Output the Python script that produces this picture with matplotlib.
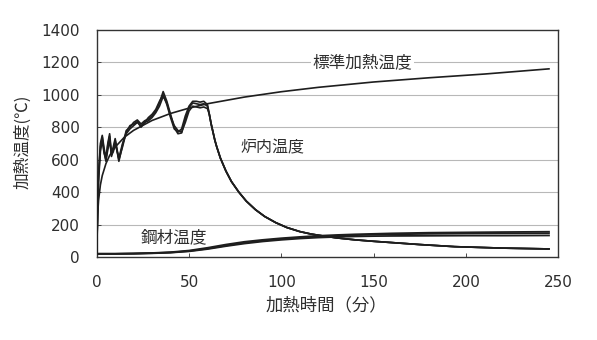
import matplotlib
matplotlib.use("Agg")
import matplotlib.pyplot as plt

plt.rcParams['font.family'] = ['Noto Sans CJK JP', 'DejaVu Sans']

# Standard heating curve
std_t = [0, 0.5, 1, 2, 3, 5, 7, 10, 15, 20, 30, 40, 50, 60, 80, 100, 120, 150, 180, 210, 245]
std_T = [20, 260, 349, 445, 502, 576, 626, 678, 739, 781, 842, 885, 918, 945, 986, 1019, 1046, 1079, 1105, 1128, 1160]

# Furnace temperature, heating phase (three tests)
fur_t = [0, 0.5, 1, 2, 3, 4, 5, 6, 7, 8, 9, 10, 12, 14, 16, 18, 20, 22, 24, 26, 28, 30, 32, 34, 36, 38, 40, 42, 44, 46, 48, 50, 52, 54, 56, 58, 60]
fur_1 = [20, 300, 500, 680, 740, 650, 590, 690, 745, 620, 660, 720, 590, 690, 780, 800, 830, 845, 820, 840, 850, 870, 900, 950, 1020, 960, 880, 800, 760, 765, 850, 920, 950, 945, 940, 945, 930]
fur_2 = [20, 280, 470, 650, 720, 640, 600, 660, 720, 630, 650, 700, 610, 700, 760, 790, 810, 830, 810, 830, 860, 880, 910, 960, 1000, 940, 860, 790, 770, 790, 870, 930, 960, 960, 955, 960, 940]
fur_3 = [20, 320, 520, 700, 750, 670, 610, 700, 760, 640, 680, 730, 600, 680, 770, 810, 820, 835, 800, 830, 840, 860, 890, 930, 990, 950, 870, 810, 780, 770, 830, 900, 930, 925, 920, 925, 915]
# Furnace temperature, cooling phase
cool_t = [61, 62, 63, 64, 65, 67, 70, 73, 77, 81, 86, 91, 97, 103, 110, 116, 122, 130, 140, 150, 160, 175, 194, 220, 245]
cool_T = [880, 820, 770, 720, 680, 610, 530, 465, 400, 345, 292, 250, 212, 182, 157, 142, 131, 118, 106, 97, 89, 77, 64, 55, 50]

# Steel temperature (three measuring points)
st_t = [0, 10, 20, 30, 40, 50, 60, 70, 80, 90, 100, 110, 120, 130, 140, 150, 160, 180, 200, 220, 245]
st_1 = [20, 20, 22, 25, 30, 40, 57, 77, 94, 106, 116, 124, 131, 136, 140, 143, 146, 150, 152, 154, 156]
st_2 = [20, 20, 21, 24, 28, 37, 52, 71, 88, 101, 111, 119, 126, 131, 135, 138, 140, 143, 145, 146, 147]
st_3 = [20, 20, 21, 23, 27, 35, 49, 67, 83, 96, 106, 114, 120, 124, 127, 129, 130, 131, 132, 132, 133]

yticks = [0, 200, 400, 600, 800, 1000, 1200, 1400]
xticks = [0, 50, 100, 150, 200, 250]

fig = plt.figure(figsize=(5.97, 3.40), dpi=100)
ax = fig.add_axes([0.162, 0.244, 0.773, 0.668])

lc = '#1e1e1e'
tc = '#2e2e2e'
for y in yticks[1:-1]:
    ax.axhline(y, color='#b8b8b8', lw=0.8, zorder=0)

ax.plot(std_t, std_T, color=lc, lw=1.2, zorder=3)
for f in (fur_1, fur_2, fur_3):
    ax.plot(fur_t + cool_t, f + cool_T, color=lc, lw=1.2, zorder=3)
for s in (st_1, st_2, st_3):
    ax.plot(st_t, s, color=lc, lw=1.3, zorder=3)

ax.set_xlim(0, 250)
ax.set_ylim(0, 1400)
ax.set_xticks(xticks)
ax.set_yticks(yticks)
ax.tick_params(direction='in', length=3, width=0.6, colors=tc, labelsize=11)
ax.tick_params(axis='y', pad=12)
ax.tick_params(axis='x', pad=13)
for lab in ax.get_xticklabels() + ax.get_yticklabels():
    lab.set_family(['DejaVu Sans'])
for sp in ax.spines.values():
    sp.set_color('#333333')
    sp.set_linewidth(1.0)

ax.set_xlabel('加熱時間（分）', fontsize=12.5, color=tc)
ax.set_ylabel('加熱温度(℃)', fontsize=12, color=tc)
ax.xaxis.set_label_coords(0.497, -0.172)
ax.yaxis.set_label_coords(-0.141, 0.507)

ax.text(144, 1200, '標準加熱温度', fontsize=12, color=tc, ha='center', va='center',
        bbox=dict(facecolor='white', edgecolor='none', pad=1), zorder=2)
ax.text(95, 675, '炉内温度', fontsize=11.5, color=tc, ha='center', va='center', zorder=4)
ax.text(42, 118, '鋼材温度', fontsize=12, color=tc, ha='center', va='center', zorder=4)

fig.savefig('out.png', dpi=100)
